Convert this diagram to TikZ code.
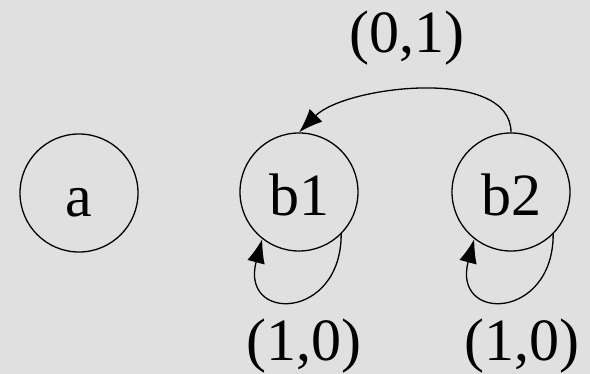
\documentclass[tikz,border=0pt]{standalone}
\usepackage{fontspec}
\setmainfont{Liberation Serif}
\usetikzlibrary{arrows.meta}
\tikzset{state/.style={draw,circle,line width=1.3pt,minimum size=118pt,inner sep=0pt,text height=47pt,text depth=0pt},
  lab/.style={anchor=base},
  conn/.style={line width=1.3pt,arrows={-Latex[length=24pt,width=18pt]}}}
\begin{document}
\begin{tikzpicture}[x=1pt,y=-1pt,font=\fontsize{60}{70}\selectfont]
\fill[black!12] (0,0) rectangle (590,374);\useasboundingbox (0,0) rectangle (590,374);
\node[state] (a) at (79,193){a};\node[state] (b1) at (299,192){b1};\node[state] (b2) at (511,192){b2};
\draw[conn] (b2.north) to[out=90,in=45,looseness=.8] (b1.north);
\draw[conn] (b1.-45) to[out=-90,in=-105,looseness=2.8] (b1.-128);
\draw[conn] (b2.-45) to[out=-90,in=-105,looseness=2.8] (b2.-128);
\node[lab] (l01) at (407,53){(0,1)};
\node[lab] (l10a) at (304,361){(1,0)};\node[lab] (l10b) at (522,361){(1,0)};
\end{tikzpicture}
\end{document}
